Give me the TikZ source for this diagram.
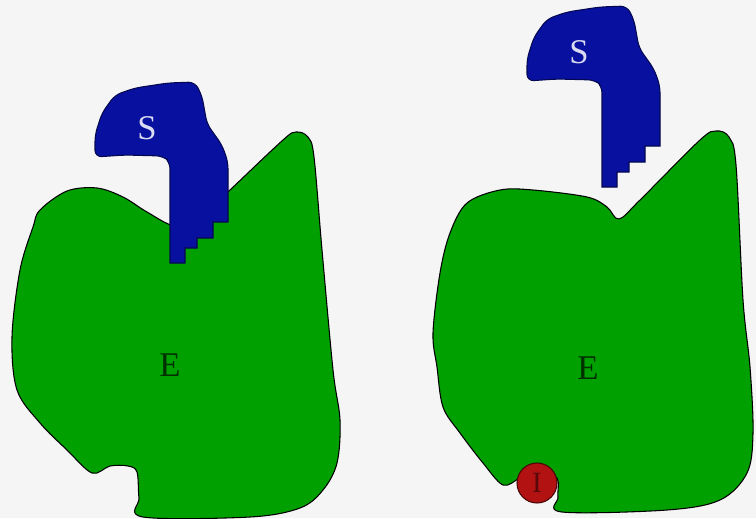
\documentclass[tikz,border=0pt]{standalone}
\usepackage{fontspec}
\setmainfont{Liberation Serif}
\definecolor{enzgreen}{RGB}{0,160,0}
\definecolor{subblue}{RGB}{8,16,160}
\definecolor{inhred}{RGB}{178,18,18}
\definecolor{paper}{RGB}{245,245,245}
\tikzset{
  enzyme/.style={fill=enzgreen, draw=black, line width=0.8pt},
  substrate/.style={fill=subblue, draw=black!50!subblue, line width=0.8pt},
  inhibitor/.style={circle, fill=inhred, draw=black!60!inhred, line width=0.8pt,
    minimum size=30pt, inner sep=0pt, text=black!50!inhred, font=\fontsize{22}{22}\selectfont},
  lbl/.style={font=\fontsize{26}{26}\selectfont, inner sep=0pt},
}
% the substrate outline, in pixels of the left picture
\newcommand{\substrateshape}{(95,157) [rounded corners=5pt] -- (95,135) -- (102,113) -- (115,95)
  -- (135,88) -- (168,83) -- (195,82) -- (202,96) -- (207,124) -- (222,145)
  -- (228,162) [sharp corners] -- (228,222) -- (213,222) -- (213,238) -- (197,238)
  -- (197,248) -- (185,248) -- (185,263) -- (170,263) [rounded corners=5pt] -- (170,162)
  -- (163,156) -- (125,155) -- cycle}
\begin{document}
\begin{tikzpicture}[x=0.75pt, y=-0.75pt]
  \fill[paper] (0,0) rectangle (756,518);
  \useasboundingbox (0,0) rectangle (756,518);

  % left: enzyme with substrate in its site
  \draw[enzyme] plot[smooth cycle, tension=0.55] coordinates {
    (40,210) (67,191) (97,188) (123,197) (147,212) (175,226) (200,218) (230,190)
    (283,140) (296,132) (308,137) (314,157) (322,250) (333,370) (340,420) (337,463)
    (323,490) (300,508) (250,517) (143,517) (139,498) (137,472) (128,466) (110,466)
    (92,473) (67,450) (40,423) (17,390) (12,337) (20,270) (33,227)};
  \draw[substrate] \substrateshape;
  \node[lbl, text=white!85!subblue] (S1) at (147,128) {S};
  \node[lbl, text=black!70!enzgreen] (E1) at (170,365) {E};

  % right: inhibitor bound, substrate left out
  \draw[enzyme] plot[smooth cycle, tension=0.55] coordinates {
    (467,203) (500,190) (533,190) (587,197) (607,207) (619,219) (640,200) (700,140)
    (716,131) (729,137) (736,165) (743,300) (750,367) (753,433) (747,473) (720,500)
    (667,510) (562,512) (558,497) (557,478) (540,470) (520,478) (503,485) (483,463)
    (460,433) (443,407) (437,367) (433,333) (440,273) (450,233)};
  \draw[substrate, shift={(432,-76)}] \substrateshape;
  \node[lbl, text=white!85!subblue] (S2) at (579,52) {S};
  \node[lbl, text=black!70!enzgreen] (E2) at (588,368) {E};
  \node[inhibitor] (I) at (537,483) {I};
\end{tikzpicture}
\end{document}
